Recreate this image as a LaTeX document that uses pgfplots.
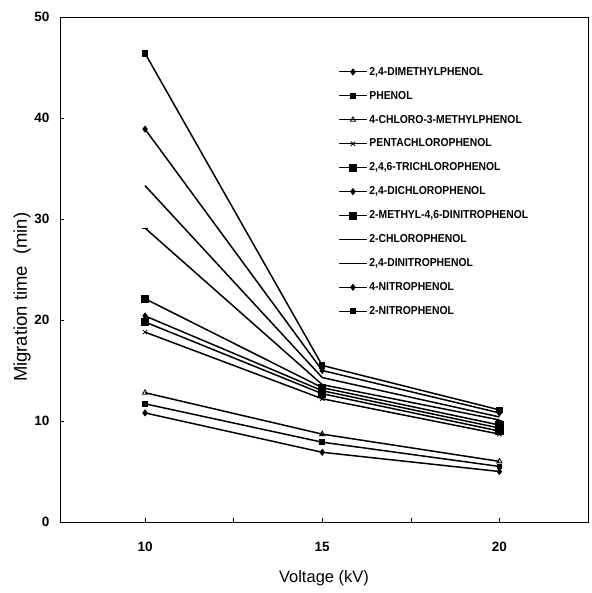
\documentclass[border=0pt]{standalone}
\usepackage{fontspec}
\setmainfont{Liberation Sans}
\newfontfamily\narrowfont[FakeStretch=0.9]{Liberation Sans}
\usepackage{pgfplots}
\pgfplotsset{compat=1.18}
\begin{document}
\begin{tikzpicture}
\begin{axis}[
  scale only axis, width=528pt, height=505pt,
  xmin=7.6, xmax=22.5, ymin=0, ymax=50,
  xtick={10,15,20}, minor xtick={12.5,17.5}, ytick={0,10,20,30,40,50},
  tick align=inside, major tick length=4pt, minor tick length=4pt,
  tick style={black, line width=0.6pt},
  xtick pos=bottom, ytick pos=left,
  axis line style={line width=0.8pt},
  ticklabel style={font=\bfseries\fontsize{13.5}{14}\selectfont},
  xticklabel style={yshift=-17pt},
  yticklabel style={xshift=-7pt},
  /pgf/number format/assume math mode=true,
  xlabel={Voltage (kV)}, ylabel={Migration time\hspace{0.6em}(min)},
  xlabel style={at={(rel axis cs:0.5,-0.111)}, anchor=center, font=\fontsize{16.5}{17}\selectfont},
  ylabel style={at={(rel axis cs:-0.072,0.445)}, anchor=center, font=\fontsize{18.5}{19}\selectfont},
  every axis plot/.append style={black, line width=1.5pt, mark options={solid, line width=0.8pt}},
  legend style={at={(rel axis cs:0.527,0.905)}, anchor=north west, draw=none, fill=none,
    font=\narrowfont\bfseries\fontsize{11.5}{12}\selectfont, row sep=10.4pt,
    inner xsep=0pt, inner ysep=0pt},
  legend cell align=left,
  legend image code/.code={\draw[mark repeat=2,mark phase=2,line width=1pt] plot coordinates {(0pt,0pt)(14pt,0pt)(28pt,0pt)};},
]
\addplot[mark=diamond*, mark size=3pt] coordinates {(10,10.8)(15,6.9)(20,5.0)};
\addlegendentry{2,4-DIMETHYLPHENOL}
\addplot[mark=square*, mark size=2.4pt] coordinates {(10,11.7)(15,7.9)(20,5.5)};
\addlegendentry{PHENOL}
\addplot[mark=triangle, mark size=3pt] coordinates {(10,12.8)(15,8.7)(20,6.0)};
\addlegendentry{4-CHLORO-3-METHYLPHENOL}
\addplot[mark=x, mark size=3pt] coordinates {(10,18.8)(15,12.2)(20,8.7)};
\addlegendentry{PENTACHLOROPHENOL}
\addplot[mark=square*, mark size=3.6pt] coordinates {(10,19.8)(15,12.7)(20,9.0)};
\addlegendentry{2,4,6-TRICHLOROPHENOL}
\addplot[mark=diamond*, mark size=3pt] coordinates {(10,20.4)(15,13.0)(20,9.3)};
\addlegendentry{2,4-DICHLOROPHENOL}
\addplot[mark=square*, mark size=3.6pt] coordinates {(10,22.1)(15,13.3)(20,9.6)};
\addlegendentry{2-METHYL-4,6-DINITROPHENOL}
\addplot[no marks] coordinates {(10,33.3)(15,14.3)(20,10.4)};
\addlegendentry{2-CHLOROPHENOL}
\addplot[mark=-, mark size=3pt] coordinates {(10,29.1)(15,13.6)(20,10.1)};
\addlegendentry{2,4-DINITROPHENOL}
\addplot[mark=diamond*, mark size=3pt] coordinates {(10,38.9)(15,15.0)(20,10.8)};
\addlegendentry{4-NITROPHENOL}
\addplot[mark=square*, mark size=2.6pt] coordinates {(10,46.4)(15,15.5)(20,11.1)};
\addlegendentry{2-NITROPHENOL}
\end{axis}
\path ([xshift=-60pt,yshift=-71pt]current axis.south west) rectangle ([xshift=3pt,yshift=17pt]current axis.north east);
\end{tikzpicture}
\end{document}
